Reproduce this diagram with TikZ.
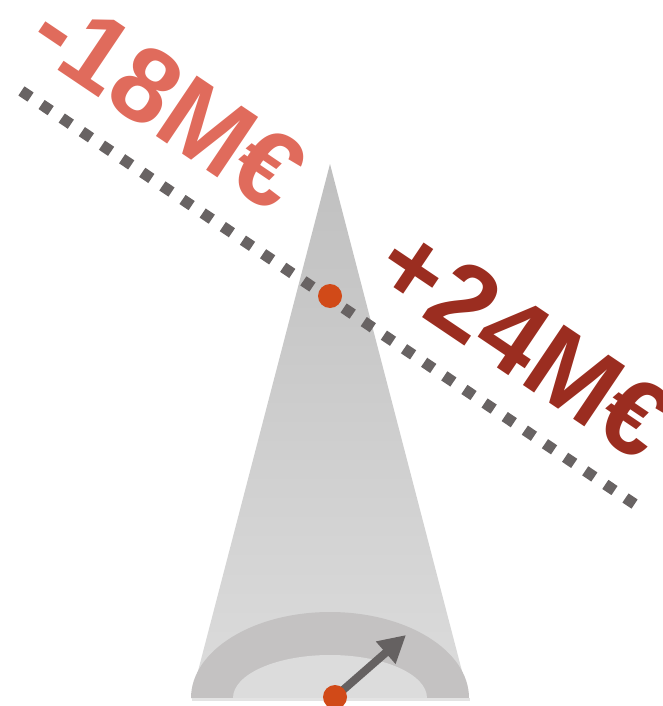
\documentclass[tikz,border=0pt]{standalone}
\usepackage{fontspec}
\setmainfont{Liberation Sans}
\usetikzlibrary{arrows.meta,calc}
\definecolor{salmon}{HTML}{E06B5C}
\definecolor{darkred}{HTML}{9B2D20}
\definecolor{dotred}{HTML}{D14A18}
\definecolor{dotgray}{HTML}{686363}
\definecolor{arrowgray}{HTML}{656161}
\definecolor{trigtop}{HTML}{C0C0C0}
\definecolor{trigbot}{HTML}{DCDCDC}
\definecolor{gaugeout}{HTML}{C4C2C2}
\definecolor{gaugein}{HTML}{DCDCDC}
\definecolor{stripcol}{HTML}{E3E3E3}
\begin{document}
\begin{tikzpicture}[x=1pt,y=-1pt,
  dotline/.style={draw=dotgray,line width=11pt,dash pattern=on 11pt off 13.28pt},
  bigtext/.style={rotate=-33.97,anchor=base,inner sep=0pt,font=\bfseries\fontsize{106}{106}\selectfont},
  reddot/.style={circle,fill=dotred,minimum size=24pt,inner sep=0pt}]
\useasboundingbox (0,0) rectangle (662,706);
% cone
\coordinate (apex) at (330,164);
\coordinate (bl) at (191,698);
\coordinate (br) at (469,698);
\shade[top color=trigtop,bottom color=trigbot] (apex) -- (br) -- (bl) -- cycle;
% gauge
\fill[gaugeout] (191,698) arc[start angle=180,end angle=360,x radius=139,y radius=86] -- cycle;
\fill[gaugein] (233,698) arc[start angle=180,end angle=360,x radius=97,y radius=43] -- cycle;
\fill[stripcol] (192,698) rectangle (470,701);
% dotted line
\coordinate (ls) at (26,94);
\coordinate (le) at (630,501);
\draw[dotline] ($(ls)!-5.5pt!(le)$) -- ($(le)!-5.5pt!(ls)$);
% texts
\node[bigtext,text=salmon] (neg) at (148,131) {-18M€};
\node[bigtext,text=darkred] (pos) at (504,372) {+24M€};
% arrow
\coordinate (pivot) at (335,697);
\coordinate (tip) at (406,635);
\draw[arrowgray,line width=8pt,-{Triangle[length=27pt,width=28pt]}] (pivot) -- (tip);
\node[reddot] (pdot) at (pivot) {};
\node[reddot] (cdot) at (330,296) {};
\end{tikzpicture}
\end{document}
